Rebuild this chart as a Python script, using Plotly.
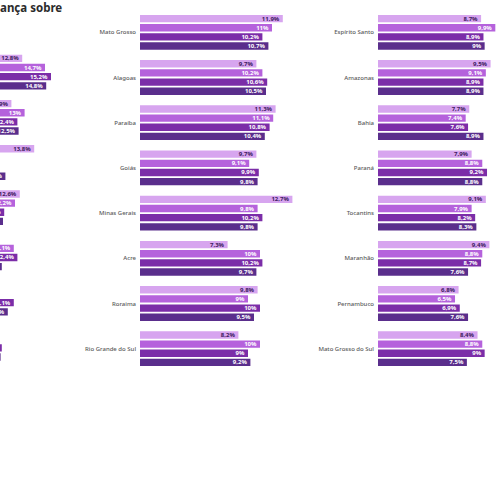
import plotly.graph_objects as go

# ---------------- data ----------------
title_text = "ança sobre"
series_colors = ["#d7a5ef", "#b562dc", "#7b2da8", "#5a2e8c"]
label_colors = ["#3d1a5e", "#ffffff", "#ffffff", "#ffffff"]

left_cats = ["Ceará", "Pará", "Sergipe", "Piauí", "Amapá", "Rondônia", "Santa Catarina"]
left_s1 = [12.8, 11.9, 13.8, 12.6, 10.6, 10.4, 10.2]
left_s2 = [14.7, 13.0, 10.5, 12.2, 12.1, 10.7, 10.5]
left_s3 = [15.2, 12.4, 10.3, 11.3, 12.4, 12.1, 11.1]
left_s4 = [14.8, 12.5, 11.4, 11.2, 11.1, 11.6, 11.0]

mid_cats = ["Mato Grosso", "Alagoas", "Paraíba", "Goiás", "Minas Gerais",
            "Acre", "Roraima", "Rio Grande do Sul"]
mid_s1 = [11.9, 9.7, 11.3, 9.7, 12.7, 7.3, 9.8, 8.2]
mid_s2 = [11.0, 10.2, 11.1, 9.1, 9.8, 10.0, 9.0, 10.0]
mid_s3 = [10.2, 10.6, 10.8, 9.9, 10.2, 10.2, 10.0, 9.0]
mid_s4 = [10.7, 10.5, 10.4, 9.8, 9.8, 9.7, 9.5, 9.2]

right_cats = ["Espírito Santo", "Amazonas", "Bahia", "Paraná", "Tocantins",
              "Maranhão", "Pernambuco", "Mato Grosso do Sul"]
right_s1 = [8.7, 9.5, 7.7, 7.9, 9.1, 9.4, 6.8, 8.4]
right_s2 = [9.9, 9.1, 7.4, 8.8, 7.9, 8.8, 6.5, 8.8]
right_s3 = [8.9, 8.9, 7.6, 9.2, 8.2, 8.7, 6.9, 9.0]
right_s4 = [9.0, 8.9, 8.9, 8.8, 8.3, 7.6, 7.6, 7.5]

# ---------------- layout helpers ----------------
W, H = 500, 500
FONT = "Noto Sans"


def fmt(v):
    return f"{v:g}".replace(".", ",") + "%"


columns = [
    dict(cats=left_cats, series=[left_s1, left_s2, left_s3, left_s4],
         xdom=[0.0, 0.2], xrange=[10.95, 10.95 + 100 / 12.0],
         ydom=[1 - 365.9 / H, 1 - 49.5 / H], labels=False),
    dict(cats=mid_cats, series=[mid_s1, mid_s2, mid_s3, mid_s4],
         xdom=[140 / W, 310 / W], xrange=[0, 170 / 12.0],
         ydom=[1 - 371.3 / H, 1 - 9.7 / H], labels=True),
    dict(cats=right_cats, series=[right_s1, right_s2, right_s3, right_s4],
         xdom=[378 / W, 1.0], xrange=[0, 122 / 11.85],
         ydom=[1 - 371.3 / H, 1 - 9.7 / H], labels=True),
]

fig = go.Figure()
layout_axes = {}
for ci, col in enumerate(columns):
    suf = "" if ci == 0 else str(ci + 1)
    for si, vals in enumerate(col["series"]):
        fig.add_trace(go.Bar(
            x=vals, y=col["cats"], orientation="h",
            xaxis="x" + suf, yaxis="y" + suf,
            marker=dict(color=series_colors[si], line=dict(width=0)),
            text=[fmt(v) for v in vals],
            textposition="inside", insidetextanchor="end",
            constraintext="none", cliponaxis=True,
            textfont=dict(size=6, color=label_colors[si], family=FONT, weight="bold"),
            showlegend=False, hoverinfo="skip",
        ))
    layout_axes["xaxis" + suf] = dict(
        domain=col["xdom"], range=col["xrange"], visible=False,
        anchor="y" + suf, fixedrange=True, showgrid=False, zeroline=False)
    layout_axes["yaxis" + suf] = dict(
        domain=col["ydom"], anchor="x" + suf, type="category",
        categoryorder="array", categoryarray=col["cats"],
        autorange="reversed", showgrid=False, zeroline=False, showline=False,
        ticks="", showticklabels=col["labels"], ticklabelstandoff=3,
        tickfont=dict(size=6, color="#5a5a5a", family=FONT, weight=500),
        fixedrange=True)

fig.update_layout(
    width=W, height=H,
    margin=dict(l=0, r=0, t=0, b=0),
    paper_bgcolor="white", plot_bgcolor="white",
    barmode="group", bargap=0.19, bargroupgap=0.2,
    font=dict(family=FONT),
    annotations=[dict(
        text=title_text, xref="paper", yref="paper", x=0, y=1,
        xanchor="left", yanchor="top", showarrow=False, xshift=-2, yshift=2,
        font=dict(size=11.5, color="#2b2b2b", family=FONT, weight="bold"))],
    **layout_axes,
)

fig.write_html("out.html", config={"displayModeBar": False},
               post_script="document.body.style.margin='0';document.body.style.overflow='hidden';")
